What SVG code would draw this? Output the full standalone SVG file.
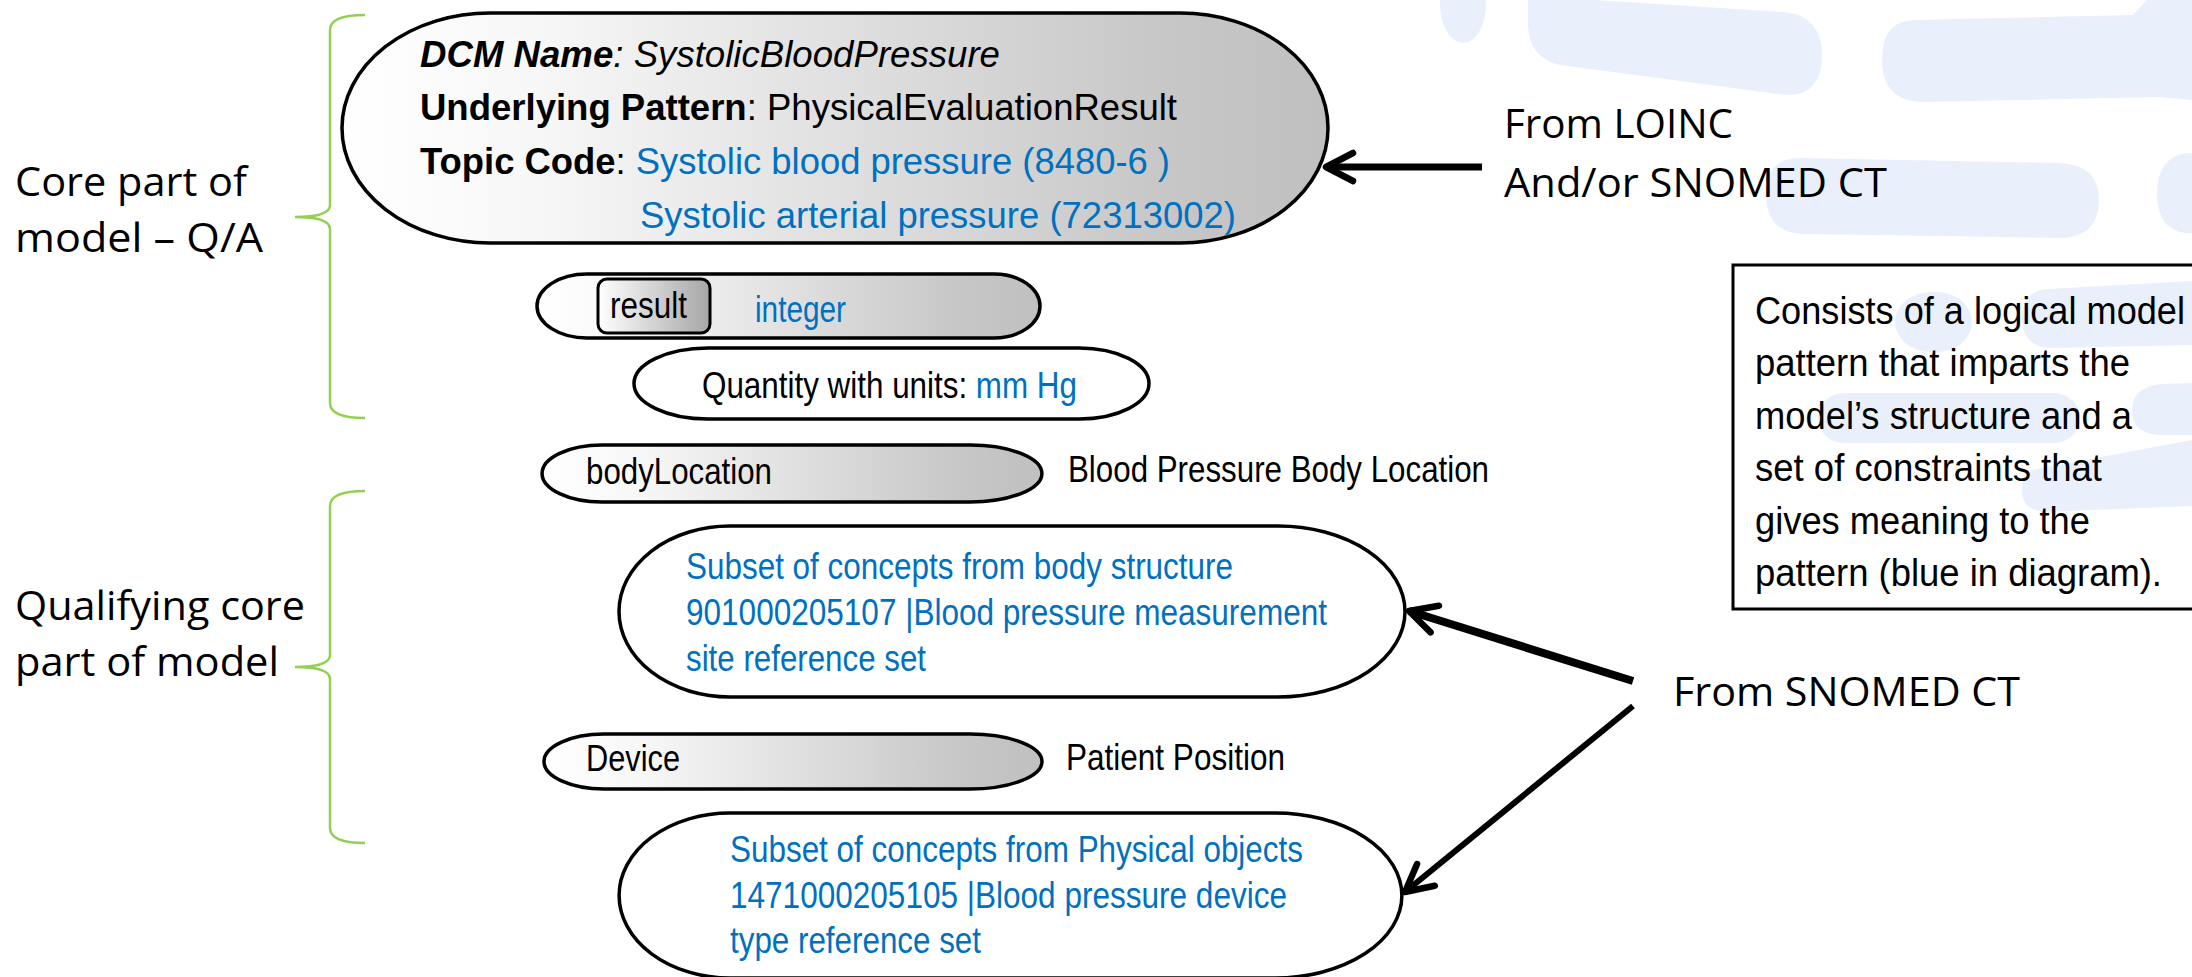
<svg xmlns="http://www.w3.org/2000/svg" width="2192" height="977" viewBox="0 0 2192 977">
  <defs>
    <linearGradient id="gNode" x1="0" y1="0" x2="1" y2="0">
      <stop offset="0" stop-color="#ffffff"/>
      <stop offset="0.2" stop-color="#f7f7f7"/>
      <stop offset="0.85" stop-color="#c6c6c6"/>
      <stop offset="1" stop-color="#c0c0c0"/>
    </linearGradient>
    <linearGradient id="gBox" x1="0" y1="0" x2="1" y2="0">
      <stop offset="0" stop-color="#ffffff"/>
      <stop offset="1" stop-color="#a6a6a6"/>
    </linearGradient>
    <marker id="chev" markerUnits="userSpaceOnUse" viewBox="-40 -20 44 40" markerWidth="44" markerHeight="40" refX="0" refY="0" orient="auto" overflow="visible">
      <path d="M-27,-14 L0,0 L-27,14" fill="none" stroke="#000" stroke-width="6.5" stroke-linecap="round" stroke-linejoin="round"/>
    </marker>
    <style>
      .wm { fill: #e9f0fc; }
      .shape { stroke: #000; stroke-width: 3.5; }
      .brace { fill: none; stroke: #92D050; stroke-width: 2.5; }
      .nf { font-family: 'Liberation Sans Narrow', 'Arial Narrow', 'Liberation Sans', Arial, sans-serif; font-size: 37px; fill: #000; }
      .bf { font-family: 'Liberation Sans Narrow', 'Arial Narrow', 'Liberation Sans', Arial, sans-serif; font-size: 38px; fill: #000; }
      .cf { font-family: 'Open Sans', 'Noto Sans', sans-serif; font-size: 41px; fill: #000; }
      .blue { fill: #0070C0; }
      .conn { fill: none; stroke: #000; marker-end: url(#chev); }
    </style>
  </defs>

  <rect x="0" y="0" width="2192" height="977" fill="#ffffff"/>

  <!-- background watermark shapes -->
  <g id="watermark">
    <ellipse class="wm" cx="1463" cy="4" rx="23" ry="39"/>
    <path class="wm" d="M1532,-4 L1784,12 Q1822,16 1822,55 Q1822,96 1786,95 L1560,65 Q1529,58 1528,25 L1528,-4 Z"/>
    <path class="wm" d="M1915,20 L2133,15 L2147,0 L2192,0 L2192,100 L2158,97 L1925,102 Q1882,102 1882,60 Q1882,20 1915,20 Z"/>
    <path class="wm" d="M1799,158 L2058,163 Q2099,164 2099,200 Q2099,238 2058,238 L1804,234 Q1766,233 1766,195 Q1766,158 1799,158 Z"/>
    <path class="wm" d="M2192,153 L2186,153 Q2157,158 2157,193 Q2157,230 2186,233 L2192,233 Z"/>
    <rect class="wm" x="1895" y="292" width="77" height="60" rx="36" ry="30"/>
    <path class="wm" d="M2048,289 L2192,281 L2192,345 L2050,348 Q2022,346 2022,318 Q2022,291 2048,289 Z"/>
    <rect class="wm" x="1818" y="393" width="262" height="50" rx="26" ry="25"/>
    <path class="wm" d="M2192,383 L2160,384 Q2132,388 2132,410 Q2132,434 2160,435 L2192,435 Z"/>
    <path class="wm" d="M2042,468 L2192,440 L2192,506 L2046,512 Q2022,511 2022,490 Q2022,470 2042,468 Z"/>
  </g>

  <!-- braces and labels -->
  <g id="brace-core">
    <path class="brace" d="M365,15 Q330,15 330,30 L330,205 Q330,217 295,217 Q330,217 330,229 L330,403 Q330,418 365,418"/>
    <text class="cf" x="15" y="196" textLength="232" lengthAdjust="spacingAndGlyphs">Core part of</text>
    <text class="cf" x="15" y="252" textLength="248" lengthAdjust="spacingAndGlyphs">model – Q/A</text>
  </g>
  <g id="brace-qualifying">
    <path class="brace" d="M365,491 Q330,491 330,506 L330,655 Q330,667 295,667 Q330,667 330,679 L330,828 Q330,843 365,843"/>
    <text class="cf" x="15" y="620" textLength="290" lengthAdjust="spacingAndGlyphs">Qualifying core</text>
    <text class="cf" x="15" y="676" textLength="264" lengthAdjust="spacingAndGlyphs">part of model</text>
  </g>

  <!-- nodes -->
  <g id="node-dcm">
    <rect class="shape" x="342" y="13" width="986" height="230" rx="148" ry="115" fill="url(#gNode)"/>
    <text class="nf" x="420" y="67" textLength="580" lengthAdjust="spacingAndGlyphs"><tspan font-weight="bold" font-style="italic">DCM Name</tspan><tspan font-style="italic">: SystolicBloodPressure</tspan></text>
    <text class="nf" x="420" y="120" textLength="757" lengthAdjust="spacingAndGlyphs"><tspan font-weight="bold">Underlying Pattern</tspan>: PhysicalEvaluationResult</text>
    <text class="nf" x="420" y="174" textLength="750" lengthAdjust="spacingAndGlyphs"><tspan font-weight="bold">Topic Code</tspan>: <tspan class="blue">Systolic blood pressure (8480-6 )</tspan></text>
    <text class="nf blue" x="640" y="228" textLength="596" lengthAdjust="spacingAndGlyphs">Systolic arterial pressure (72313002)</text>
  </g>

  <g id="node-result">
    <path class="shape" d="M587,274 L994,274 A46,32 0 0 1 994,338 L587,338 A50,32 0 0 1 587,274 Z" fill="url(#gNode)"/>
    <rect x="598" y="279" width="112" height="54" rx="9" ry="9" fill="url(#gBox)" stroke="#000" stroke-width="3"/>
    <text class="nf" x="610" y="318" textLength="77" lengthAdjust="spacingAndGlyphs">result</text>
    <text class="nf blue" x="755" y="322" textLength="91" lengthAdjust="spacingAndGlyphs">integer</text>
  </g>

  <g id="node-quantity">
    <path class="shape" d="M708,348 L1079,348 A70,35.5 0 0 1 1079,419 L708,419 A74,35.5 0 0 1 708,348 Z" fill="#ffffff"/>
    <text class="nf" x="702" y="398" textLength="375" lengthAdjust="spacingAndGlyphs">Quantity with units: <tspan class="blue">mm Hg</tspan></text>
  </g>

  <g id="node-bodylocation">
    <path class="shape" d="M602,445 L970,445 A72,28.5 0 0 1 970,502 L602,502 A60,28.5 0 0 1 602,445 Z" fill="url(#gNode)"/>
    <text class="nf" x="586" y="484" textLength="186" lengthAdjust="spacingAndGlyphs">bodyLocation</text>
    <text class="nf" x="1068" y="482" textLength="421" lengthAdjust="spacingAndGlyphs">Blood Pressure Body Location</text>
  </g>

  <g id="node-bodystructure">
    <path class="shape" d="M730,526 L1278,526 A127,85.5 0 0 1 1278,697 L730,697 A111,85.5 0 0 1 730,526 Z" fill="#ffffff"/>
    <text class="nf blue" x="686" y="579" textLength="547" lengthAdjust="spacingAndGlyphs">Subset of concepts from body structure</text>
    <text class="nf blue" x="686" y="625" textLength="641" lengthAdjust="spacingAndGlyphs">901000205107 |Blood pressure measurement</text>
    <text class="nf blue" x="686" y="671" textLength="240" lengthAdjust="spacingAndGlyphs">site reference set</text>
  </g>

  <g id="node-device">
    <path class="shape" d="M604,734 L970,734 A72,27.5 0 0 1 970,789 L604,789 A60,27.5 0 0 1 604,734 Z" fill="url(#gNode)"/>
    <text class="nf" x="586" y="771" textLength="94" lengthAdjust="spacingAndGlyphs">Device</text>
    <text class="nf" x="1066" y="770" textLength="219" lengthAdjust="spacingAndGlyphs">Patient Position</text>
  </g>

  <g id="node-physical">
    <path class="shape" d="M730,813 L1275,813 A127,82.5 0 0 1 1275,978 L730,978 A111,82.5 0 0 1 730,813 Z" fill="#ffffff"/>
    <text class="nf blue" x="730" y="862" textLength="573" lengthAdjust="spacingAndGlyphs">Subset of concepts from Physical objects</text>
    <text class="nf blue" x="730" y="908" textLength="557" lengthAdjust="spacingAndGlyphs">1471000205105 |Blood pressure device</text>
    <text class="nf blue" x="730" y="953" textLength="251" lengthAdjust="spacingAndGlyphs">type reference set</text>
  </g>

  <g id="node-loinc">
    <text class="cf" x="1504" y="138" textLength="229" lengthAdjust="spacingAndGlyphs">From LOINC</text>
    <text class="cf" x="1504" y="197" textLength="383" lengthAdjust="spacingAndGlyphs">And/or SNOMED CT</text>
  </g>

  <g id="node-snomed">
    <text class="cf" x="1673" y="706" textLength="347" lengthAdjust="spacingAndGlyphs">From SNOMED CT</text>
  </g>

  <g id="node-note">
    <rect x="1733" y="265" width="480" height="344" fill="none" stroke="#000" stroke-width="3"/>
    <text class="bf" x="1755" y="324" textLength="430" lengthAdjust="spacingAndGlyphs">Consists of a logical model</text>
    <text class="bf" x="1755" y="376" textLength="375" lengthAdjust="spacingAndGlyphs">pattern that imparts the</text>
    <text class="bf" x="1755" y="429" textLength="377" lengthAdjust="spacingAndGlyphs">model’s structure and a</text>
    <text class="bf" x="1755" y="481" textLength="347" lengthAdjust="spacingAndGlyphs">set of constraints that</text>
    <text class="bf" x="1755" y="534" textLength="335" lengthAdjust="spacingAndGlyphs">gives meaning to the</text>
    <text class="bf" x="1755" y="586" textLength="407" lengthAdjust="spacingAndGlyphs">pattern (blue in diagram).</text>
  </g>

  <!-- connectors -->
  <g id="connectors">
    <line class="conn" x1="1482" y1="167" x2="1326" y2="167" stroke-width="7"/>
    <line class="conn" x1="1633" y1="681" x2="1409" y2="611" stroke-width="8"/>
    <line class="conn" x1="1633" y1="706" x2="1405" y2="892" stroke-width="6"/>
  </g>
</svg>
